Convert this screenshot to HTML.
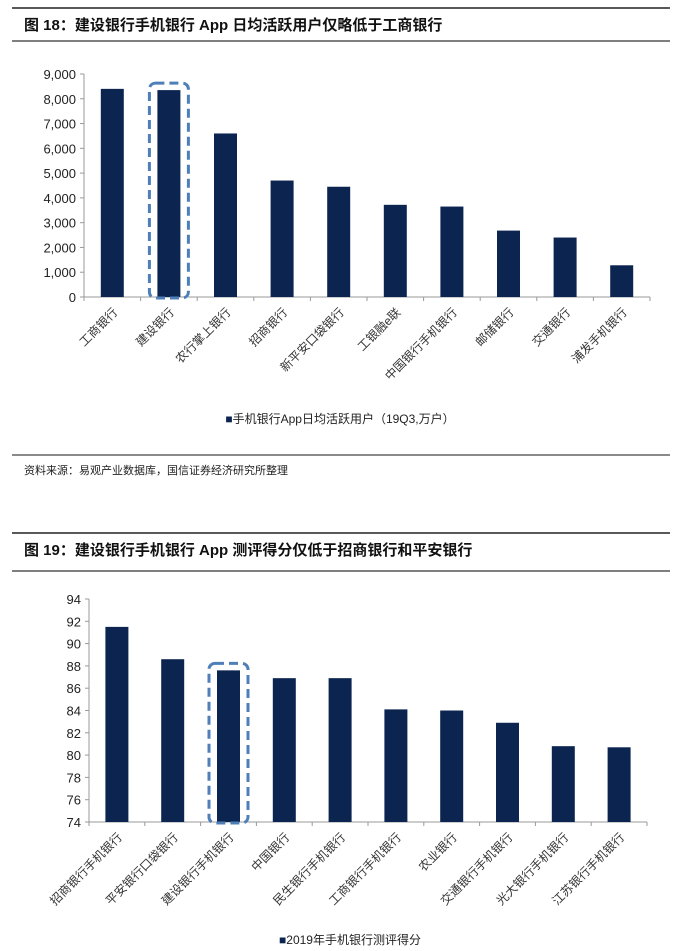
<!DOCTYPE html>
<html><head><meta charset="utf-8"><style>
body{margin:0;background:#fff;width:682px;height:951px;overflow:hidden;font-family:"Liberation Sans","Noto Sans CJK SC",sans-serif;}
svg{position:absolute;left:0;top:0}
</style></head><body>
<svg width="682" height="951">
<g>
<line x1="12" y1="8" x2="670" y2="8" stroke="#222" stroke-width="1.5"/>
<text x="24" y="30" font-size="15" font-weight="bold" fill="#111" font-family="Liberation Sans,Noto Sans CJK SC,sans-serif">图 18：建设银行手机银行 App 日均活跃用户仅略低于工商银行</text>
<line x1="12" y1="41" x2="670" y2="41" stroke="#555" stroke-width="1.5"/>
</g>
<g id="c1"></g>
<text x="340" y="423" font-size="12" text-anchor="middle" fill="#222"><tspan fill="#0b2550">■</tspan>手机银行App日均活跃用户（19Q3,万户）</text>
<line x1="12" y1="455" x2="670" y2="455" stroke="#444" stroke-width="1.2"/>
<text x="24" y="474" font-size="11" fill="#222">资料来源：易观产业数据库，国信证券经济研究所整理</text>
<g>
<line x1="12" y1="533" x2="670" y2="533" stroke="#222" stroke-width="1.5"/>
<text x="24" y="555" font-size="15" font-weight="bold" fill="#111">图 19：建设银行手机银行 App 测评得分仅低于招商银行和平安银行</text>
<line x1="12" y1="571" x2="670" y2="571" stroke="#555" stroke-width="1.5"/>
</g>
<g id="c2"></g>
<text x="350" y="944" font-size="12" text-anchor="middle" fill="#222"><tspan fill="#0b2550">■</tspan>2019年手机银行测评得分</text>
</svg>
<script>
const cats1=["工商银行","建设银行","农行掌上银行","招商银行","新平安口袋银行","工银融e联","中国银行手机银行","邮储银行","交通银行","浦发手机银行"];
const vals1=[8400,8350,6600,4700,4450,3720,3650,2680,2400,1280];
const ticks1=[0,1000,2000,3000,4000,5000,6000,7000,8000,9000];
const tickLabels1=["0","1,000","2,000","3,000","4,000","5,000","6,000","7,000","8,000","9,000"];
const cats2=["招商银行手机银行","平安银行口袋银行","建设银行手机银行","中国银行","民生银行手机银行","工商银行手机银行","农业银行","交通银行手机银行","光大银行手机银行","江苏银行手机银行"];
const vals2=[91.5,88.6,87.6,86.9,86.9,84.1,84.0,82.9,80.8,80.7];
const ticks2=[74,76,78,80,82,84,86,88,90,92,94];
const NS="http://www.w3.org/2000/svg";
function mk(p,t,a){const e=document.createElementNS(NS,t);for(const k in a)e.setAttribute(k,a[k]);p.appendChild(e);return e;}
function draw(gid,cats,vals,ticks,labels,min,max,x0,x1,yTop,yBot,hl){
 const g=document.getElementById(gid);
 const y=v=>yBot-(v-min)/(max-min)*(yBot-yTop);
 const step=(x1-x0)/cats.length;
 const xc=i=>x0+step*(i+0.5);
 let ax=mk(g,'line',{x1:x0,y1:yTop,x2:x0,y2:yBot,stroke:'#999'});
 
 
 ticks.forEach((t,i)=>{
  mk(g,'line',{x1:x0-4,y1:y(t),x2:x0,y2:y(t),stroke:'#999'});
  const tx=mk(g,'text',{x:x0-8,y:y(t)+5,'font-size':13,'text-anchor':'end',fill:'#222'});
  tx.textContent=labels[i];
  
  
 });
 let bx=mk(g,'line',{x1:x0,y1:yBot,x2:x1,y2:yBot,stroke:'#999'});
 
 
 for(let i=0;i<=cats.length;i++)mk(g,'line',{x1:x0+step*i,y1:yBot,x2:x0+step*i,y2:yBot+4,stroke:'#999'});
 cats.forEach((c,i)=>{
  const b=mk(g,'rect',{x:xc(i)-11.5,y:y(vals[i]),width:23,height:yBot-y(vals[i]),fill:'#0b2550'});
  
  
  const tx=mk(g,'text',{x:0,y:0,'font-size':12,'text-anchor':'end',fill:'#333',transform:`translate(${xc(i)+6},${yBot+16}) rotate(-45)`});
  tx.textContent=c;
  
  
 });
 const h=mk(g,'rect',{x:xc(hl)-19.5,y:y(vals[hl])-7,width:39,height:yBot-y(vals[hl])+8,rx:6,fill:'none',stroke:'#4f7fb8','stroke-width':3,'stroke-dasharray':'9,5'});
 
 
}
draw('c1',cats1,vals1,ticks1,tickLabels1,0,9000,84,650,74,297,1);
draw('c2',cats2,vals2,ticks2,ticks2.map(String),74,94,89,647,599,822,2);
</script>
</body></html>
